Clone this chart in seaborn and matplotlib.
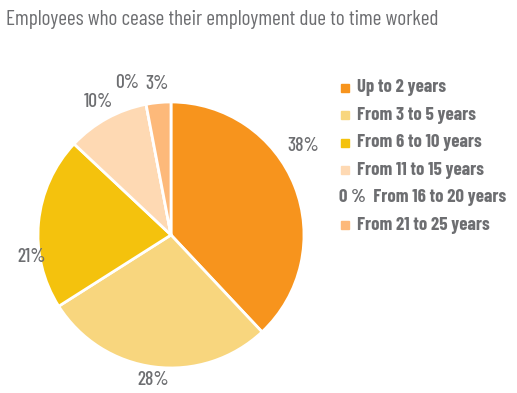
import numpy as np
import matplotlib
matplotlib.use("Agg")
import matplotlib.pyplot as plt
import seaborn as sns

sns.set_style("white")
plt.rcParams['font.family'] = ['Barlow Condensed', 'DejaVu Sans']

categories = ['Up to 2 years', 'From 3 to 5 years', 'From 6 to 10 years',
              'From 11 to 15 years', 'From 16 to 20 years', 'From 21 to 25 years']
shares = [38, 28, 21, 10, 0, 3]
colors = ['#F7941D', '#F8D67E', '#F4C20D', '#FED9B3', '#FBB36A', '#FDB97A']

text_gray = '#6D6E71'

fig = plt.figure(figsize=(5.17, 3.93), dpi=100)
ax = fig.add_axes([0.0735, 0.0636, 0.5145, 0.677])

wedges, texts, autotexts = ax.pie(
    shares, colors=colors, startangle=90, counterclock=False,
    autopct=lambda p: f"{p:.0f}%", pctdistance=1.14,
    wedgeprops=dict(edgecolor='white', linewidth=2),
    textprops=dict(color=text_gray, fontsize=14, fontweight='medium'))
ax.set_xlim(-1, 1)
ax.set_ylim(-1, 1)
ax.set_aspect('equal')

# nudge a couple of labels the way the original layout has them
def place(t, ang, r):
    a = np.deg2rad(ang)
    t.set_position((r * np.cos(a), r * np.sin(a)))

place(autotexts[0], 34, 1.2)
place(autotexts[1], -97, 1.1)
place(autotexts[2], 189, 1.06)
place(autotexts[4], 106, 1.19)

fig.text(0.012, 0.95, "Employees who cease their employment due to time worked",
         fontsize=15.3, fontweight='normal', color=text_gray, va='center', ha='left')

# legend
y0 = 393 - 88
step = 27.4
for i, (lab, c, s) in enumerate(zip(categories, colors, shares)):
    y = (y0 - i * step) / 393
    if s == 0:
        fig.text(339 / 517, y, f"0 %  {lab}", fontsize=13.5, fontweight='bold',
                 color=text_gray, va='center', ha='left')
    else:
        fig.patches.append(plt.Rectangle((341 / 517, y - 4 / 393), 8 / 517, 8 / 393,
                                         transform=fig.transFigure, color=c,
                                         figure=fig))
        fig.text(357 / 517, y, lab, fontsize=13.5, fontweight='bold',
                 color=text_gray, va='center', ha='left')

fig.savefig("out.png", dpi=100)
